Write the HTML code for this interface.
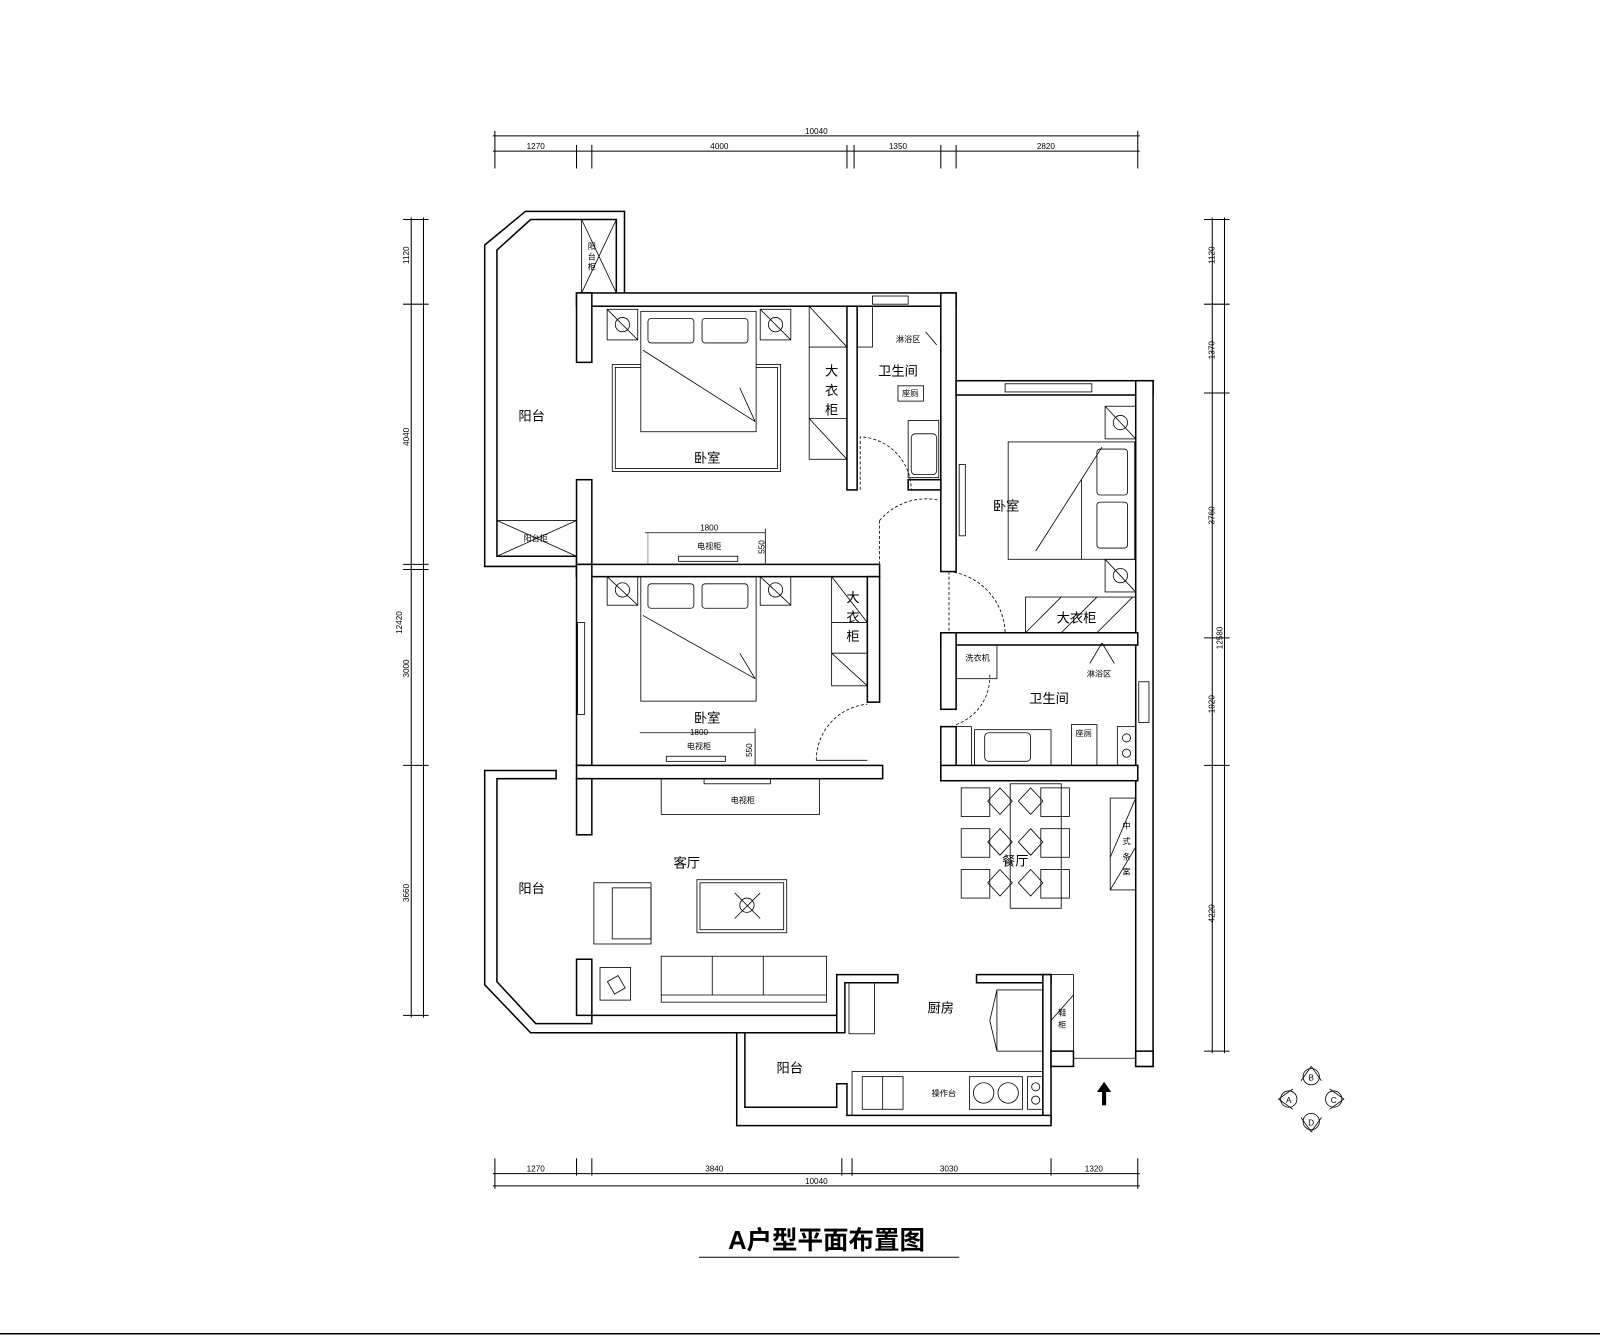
<!DOCTYPE html>
<html><head><meta charset="utf-8"><style>
html,body{margin:0;padding:0;background:#fff;}
svg{display:block}
text{font-family:"Liberation Sans","Noto Sans CJK SC",sans-serif;fill:#000}
</style></head><body>
<svg width="1600" height="1339" viewBox="0 0 1568 1312" xmlns="http://www.w3.org/2000/svg">
<g stroke="#000" fill="none" stroke-width="1">
<line x1="483" y1="133" x2="1117" y2="133"/>
<line x1="483" y1="148" x2="1117" y2="148"/>
<line x1="485" y1="128" x2="485" y2="165"/><line x1="1115" y1="128" x2="1115" y2="165"/>
<line x1="565" y1="142" x2="565" y2="165"/><line x1="580" y1="142" x2="580" y2="165"/>
<line x1="830" y1="142" x2="830" y2="165"/><line x1="837" y1="142" x2="837" y2="165"/>
<line x1="922" y1="142" x2="922" y2="165"/><line x1="937" y1="142" x2="937" y2="165"/>
<line x1="403" y1="213" x2="403" y2="997"/><line x1="415" y1="213" x2="415" y2="997"/>
<line x1="395" y1="215" x2="420" y2="215"/><line x1="395" y1="298" x2="420" y2="298"/>
<line x1="395" y1="553" x2="420" y2="553"/><line x1="395" y1="558" x2="420" y2="558"/>
<line x1="395" y1="750" x2="420" y2="750"/><line x1="395" y1="995" x2="420" y2="995"/>
<line x1="1188" y1="213" x2="1188" y2="1032"/><line x1="1200" y1="213" x2="1200" y2="1032"/>
<line x1="1180" y1="215" x2="1205" y2="215"/><line x1="1180" y1="298" x2="1205" y2="298"/>
<line x1="1180" y1="385" x2="1205" y2="385"/><line x1="1180" y1="625" x2="1205" y2="625"/>
<line x1="1180" y1="750" x2="1205" y2="750"/><line x1="1180" y1="1030" x2="1205" y2="1030"/>
<line x1="483" y1="1150" x2="1117" y2="1150"/><line x1="483" y1="1162" x2="1117" y2="1162"/>
<line x1="485" y1="1135" x2="485" y2="1165"/><line x1="565" y1="1135" x2="565" y2="1152"/>
<line x1="580" y1="1135" x2="580" y2="1152"/><line x1="825" y1="1135" x2="825" y2="1152"/>
<line x1="835" y1="1135" x2="835" y2="1152"/><line x1="1030" y1="1135" x2="1030" y2="1152"/>
<line x1="1115" y1="1135" x2="1115" y2="1165"/>
<line x1="0" y1="1307" x2="1568" y2="1307" stroke-width="1.5"/>
<line x1="685" y1="1232" x2="940" y2="1232"/>
</g>
<g font-size="8" text-anchor="middle">
<text x="800" y="131">10040</text><text x="525" y="146">1270</text><text x="705" y="146">4000</text>
<text x="880" y="146">1350</text><text x="1025" y="146">2820</text>
<text x="525" y="1148">1270</text><text x="700" y="1148">3840</text><text x="930" y="1148">3030</text>
<text x="1072" y="1148">1320</text><text x="800" y="1160">10040</text>
<text transform="translate(401,250) rotate(-90)">1120</text>
<text transform="translate(401,428) rotate(-90)">4040</text>
<text transform="translate(394,610) rotate(-90)">12420</text>
<text transform="translate(401,655) rotate(-90)">3000</text>
<text transform="translate(401,875) rotate(-90)">3660</text>
<text transform="translate(1190,250) rotate(-90)">1120</text>
<text transform="translate(1190,343) rotate(-90)">1370</text>
<text transform="translate(1190,505) rotate(-90)">3760</text>
<text transform="translate(1198,625) rotate(-90)">12580</text>
<text transform="translate(1190,690) rotate(-90)">1920</text>
<text transform="translate(1190,895) rotate(-90)">4220</text>
</g>

<g fill="#fff" stroke="#000" stroke-width="1.5">
<path d="M475 240 L515 207 L612 207 L612 290 L604 290 L604 215 L520 215 L487 245 L487 545 L565 545 L565 555 L475 555 Z"/>
<rect x="565" y="287" width="372" height="13"/>
<rect x="565" y="287" width="15" height="68"/>
<rect x="565" y="470" width="15" height="93"/>
<rect x="830" y="300" width="10" height="180"/>
<rect x="922" y="287" width="15" height="273"/>
<rect x="890" y="470" width="32" height="10"/>
<rect x="937" y="373" width="193" height="14"/>
<rect x="1113" y="373" width="17" height="672"/>
<rect x="565" y="553" width="297" height="12"/>
<rect x="565" y="553" width="15" height="197"/>
<rect x="850" y="565" width="12" height="123"/>
<rect x="565" y="750" width="300" height="13"/>
<rect x="565" y="763" width="15" height="55"/>
<path d="M475 755 L545 755 L545 763 L487 763 L487 962 L525 1003 L580 1003 L580 940 L565 940 L565 995 L822 995 L822 1012 L520 1012 L475 965 Z"/>
<rect x="922" y="620" width="193" height="12"/>
<rect x="922" y="620" width="15" height="75"/>
<rect x="922" y="712" width="15" height="53"/>
<rect x="922" y="750" width="193" height="15"/>
<path d="M820 955 L880 955 L880 963 L828 963 L828 1012 L820 1012 Z"/>
<rect x="957" y="955" width="73" height="8"/>
<rect x="1022" y="955" width="8" height="145"/>
<path d="M722 1012 L730 1012 L730 1085 L820 1085 L820 1062 L830 1062 L830 1093 L1030 1093 L1030 1103 L722 1103 Z"/>
<rect x="1030" y="1030" width="22" height="15"/>
<rect x="1113" y="1030" width="17" height="15"/>
</g>
<g stroke="#000" fill="none" stroke-width="0.8">
<rect x="855" y="290" width="35" height="8"/><rect x="985" y="376" width="85" height="8"/>
<rect x="566" y="610" width="7" height="90"/><rect x="1116" y="668" width="10" height="40"/>
<line x1="1052" y1="1037" x2="1113" y2="1037"/>
<rect x="570" y="215" width="34" height="72"/><line x1="570" y1="215" x2="604" y2="287"/><line x1="604" y1="215" x2="570" y2="287"/>
<rect x="487" y="510" width="78" height="35"/><line x1="487" y1="510" x2="565" y2="545"/><line x1="565" y1="510" x2="487" y2="545"/>
<rect x="595" y="303" width="30" height="30"/><line x1="595" y1="303" x2="625" y2="333"/><circle cx="610" cy="318" r="7"/>
<rect x="745" y="303" width="30" height="30"/><line x1="745" y1="303" x2="775" y2="333"/><circle cx="760" cy="318" r="7"/>
<rect x="600" y="357" width="165" height="105"/><rect x="603" y="360" width="159" height="99"/>
<rect x="628" y="305" width="113" height="118" fill="#fff"/>
<rect x="635" y="312" width="45" height="24" rx="3"/><rect x="688" y="312" width="45" height="24" rx="3"/>
<line x1="630" y1="343" x2="740" y2="413"/><line x1="725" y1="380" x2="740" y2="413"/>
<rect x="793" y="300" width="37" height="150"/>
<line x1="793" y1="340" x2="830" y2="340"/><line x1="793" y1="410" x2="830" y2="410"/>
<line x1="793" y1="300" x2="830" y2="340"/><line x1="793" y1="410" x2="830" y2="450"/>
<rect x="840" y="300" width="15" height="40"/><line x1="907" y1="325" x2="918" y2="338"/>
<rect x="880" y="378" width="25" height="15"/><rect x="890" y="412" width="30" height="56"/><rect x="893" y="425" width="25" height="40" rx="4"/>
<path d="M843 480 L843 428 A52 52 0 0 1 893 480" stroke-dasharray="3,2"/>
<line x1="632" y1="522" x2="750" y2="522"/><line x1="750" y1="518" x2="750" y2="553"/>
<rect x="665" y="545" width="58" height="5"/><rect x="635" y="522" width="115" height="31" stroke-width="0.4"/>
<rect x="940" y="455" width="6" height="70"/>
<rect x="988" y="433" width="124" height="115"/>
<rect x="1075" y="440" width="30" height="45" rx="3"/><rect x="1075" y="492" width="30" height="45" rx="3"/>
<line x1="1080" y1="438" x2="1015" y2="540"/><line x1="1060" y1="470" x2="1060" y2="548"/>
<rect x="1083" y="398" width="30" height="32"/><line x1="1083" y1="398" x2="1113" y2="430"/><circle cx="1098" cy="414" r="7"/>
<rect x="1083" y="548" width="30" height="32"/><line x1="1083" y1="548" x2="1113" y2="580"/><circle cx="1098" cy="564" r="7"/>
<rect x="1005" y="585" width="108" height="35"/><line x1="1005" y1="620" x2="1040" y2="585"/><line x1="1040" y1="620" x2="1075" y2="585"/><line x1="1075" y1="620" x2="1110" y2="585"/>
<path d="M930 560 L930 620 M930 560 A62 62 0 0 1 985 620" stroke-dasharray="3,2"/>
<path d="M862 510 A60 60 0 0 1 920 490 M862 510 L862 560" stroke-dasharray="3,2"/>
<rect x="595" y="565" width="30" height="28"/><line x1="595" y1="565" x2="625" y2="593"/><circle cx="610" cy="578" r="7"/>
<rect x="745" y="565" width="30" height="28"/><line x1="745" y1="565" x2="775" y2="593"/><circle cx="760" cy="578" r="7"/>
<rect x="628" y="565" width="113" height="122"/>
<rect x="635" y="572" width="45" height="24" rx="3"/><rect x="688" y="572" width="45" height="24" rx="3"/>
<line x1="630" y1="603" x2="740" y2="665"/><line x1="725" y1="640" x2="740" y2="665"/>
<rect x="815" y="565" width="35" height="107"/><line x1="815" y1="610" x2="850" y2="610"/><line x1="815" y1="640" x2="850" y2="640"/>
<line x1="815" y1="565" x2="850" y2="610"/><line x1="815" y1="640" x2="850" y2="672"/>
<line x1="627" y1="718" x2="740" y2="718"/><line x1="740" y1="714" x2="740" y2="750"/>
<rect x="653" y="741" width="58" height="5"/>
<path d="M800 745 A55 55 0 0 1 850 690" stroke-dasharray="3,2"/><line x1="800" y1="745" x2="850" y2="745"/>
<rect x="937" y="632" width="40" height="33"/><rect x="937" y="712" width="15" height="38"/>
<rect x="955" y="715" width="75" height="35"/><rect x="965" y="718" width="45" height="28" rx="4"/>
<rect x="1050" y="710" width="25" height="40"/><rect x="1095" y="712" width="18" height="38"/>
<circle cx="1104" cy="723" r="4"/><circle cx="1104" cy="738" r="4"/>
<path d="M937 710 A50 50 0 0 0 970 660" stroke-dasharray="3,2"/>
<line x1="1080" y1="630" x2="1068" y2="650"/><line x1="1080" y1="630" x2="1092" y2="650"/>
<rect x="648" y="763" width="155" height="35"/><rect x="690" y="763" width="65" height="5"/>
<rect x="582" y="865" width="56" height="60"/><rect x="600" y="870" width="38" height="50"/>
<rect x="683" y="862" width="88" height="52"/><rect x="686" y="865" width="82" height="46"/>
<circle cx="732" cy="887" r="7"/><line x1="720" y1="875" x2="745" y2="900"/><line x1="745" y1="875" x2="720" y2="900"/>
<rect x="648" y="937" width="162" height="45"/><line x1="698" y1="937" x2="698" y2="975"/><line x1="748" y1="937" x2="748" y2="975"/><line x1="648" y1="975" x2="810" y2="975"/>
<rect x="588" y="948" width="30" height="32"/><rect x="598" y="958" width="12" height="14" transform="rotate(-30 604 965)"/>
<rect x="990" y="768" width="50" height="122"/>
<rect x="942" y="772" width="28" height="28"/><rect x="942" y="812" width="28" height="28"/><rect x="942" y="852" width="28" height="28"/>
<rect x="1020" y="772" width="28" height="28"/><rect x="1020" y="812" width="28" height="28"/><rect x="1020" y="852" width="28" height="28"/>
<path d="M980 772 L992 785 L980 798 L968 785 Z"/><path d="M1010 772 L1022 785 L1010 798 L998 785 Z"/>
<path d="M980 812 L992 825 L980 838 L968 825 Z"/><path d="M1010 812 L1022 825 L1010 838 L998 825 Z"/>
<path d="M980 852 L992 865 L980 878 L968 865 Z"/><path d="M1010 852 L1022 865 L1010 878 L998 865 Z"/>
<rect x="1088" y="782" width="25" height="90"/><line x1="1088" y1="840" x2="1113" y2="782"/><line x1="1088" y1="872" x2="1113" y2="830"/>
<rect x="832" y="963" width="25" height="50"/>
<rect x="977" y="970" width="45" height="60"/><path d="M977 970 L970 1000 L977 1030"/>
<rect x="1030" y="955" width="22" height="75"/><line x1="1030" y1="1000" x2="1052" y2="975"/>
<rect x="835" y="1050" width="187" height="43"/>
<rect x="845" y="1055" width="40" height="32"/><line x1="865" y1="1055" x2="865" y2="1087"/>
<rect x="950" y="1055" width="52" height="32"/>
<circle cx="964" cy="1071" r="10"/><circle cx="988" cy="1071" r="10"/>
<rect x="1007" y="1055" width="15" height="32"/><circle cx="1015" cy="1065" r="4"/><circle cx="1015" cy="1078" r="4"/>
<g transform="translate(1285,1077)">
<circle cx="0" cy="-22" r="8"/><circle cx="-22" cy="0" r="8"/><circle cx="22" cy="0" r="8"/><circle cx="0" cy="22" r="8"/>
<path d="M-10 -18 L0 -32 L10 -18"/><path d="M-18 -10 L-32 0 L-18 10"/><path d="M18 -10 L32 0 L18 10"/><path d="M-10 18 L0 32 L10 18"/>
</g>
</g>
<path d="M1082 1060 L1075 1070 L1080 1070 L1080 1083 L1084 1083 L1084 1070 L1089 1070 Z" fill="#000"/>

<g font-size="13" text-anchor="middle">
<text x="521" y="412">阳台</text><text x="693" y="453">卧室</text><text x="880" y="368">卫生间</text>
<text x="815" y="368">大</text><text x="815" y="387">衣</text><text x="815" y="406">柜</text>
<text x="986" y="500">卧室</text><text x="1055" y="610">大衣柜</text>
<text x="836" y="590">大</text><text x="836" y="609">衣</text><text x="836" y="628">柜</text>
<text x="693" y="708">卧室</text><text x="1028" y="689">卫生间</text>
<text x="673" y="850">客厅</text><text x="521" y="875">阳台</text><text x="995" y="848">餐厅</text>
<text x="922" y="992">厨房</text><text x="774" y="1051">阳台</text>
</g>
<g font-size="8" text-anchor="middle">
<text x="580" y="244">阳</text><text x="580" y="254">台</text><text x="580" y="264">柜</text>
<text x="525" y="530">阳台柜</text><text x="890" y="335">淋浴区</text><text x="892" y="388">座厕</text>
<text x="695" y="520">1800</text><text x="695" y="538">电视柜</text>
<text x="685" y="720">1800</text><text x="685" y="734">电视柜</text><text x="728" y="787">电视柜</text>
<text x="958" y="647">洗衣机</text><text x="1077" y="663">淋浴区</text><text x="1062" y="721">座厕</text>
<text x="1104" y="812">中</text><text x="1104" y="827">式</text><text x="1104" y="842">条</text><text x="1104" y="857">案</text>
<text x="1041" y="995">鞋</text><text x="1041" y="1007">柜</text><text x="925" y="1074">操作台</text>
<text x="1285" y="1059">B</text><text x="1263" y="1081">A</text>
<text x="1307" y="1081">C</text><text x="1285" y="1103">D</text>
<text transform="translate(749,536) rotate(-90)">550</text><text transform="translate(737,735) rotate(-90)">550</text>
</g>
<text x="810" y="1224" font-size="25" font-weight="bold" text-anchor="middle">A户型平面布置图</text>
</svg>
</body></html>
